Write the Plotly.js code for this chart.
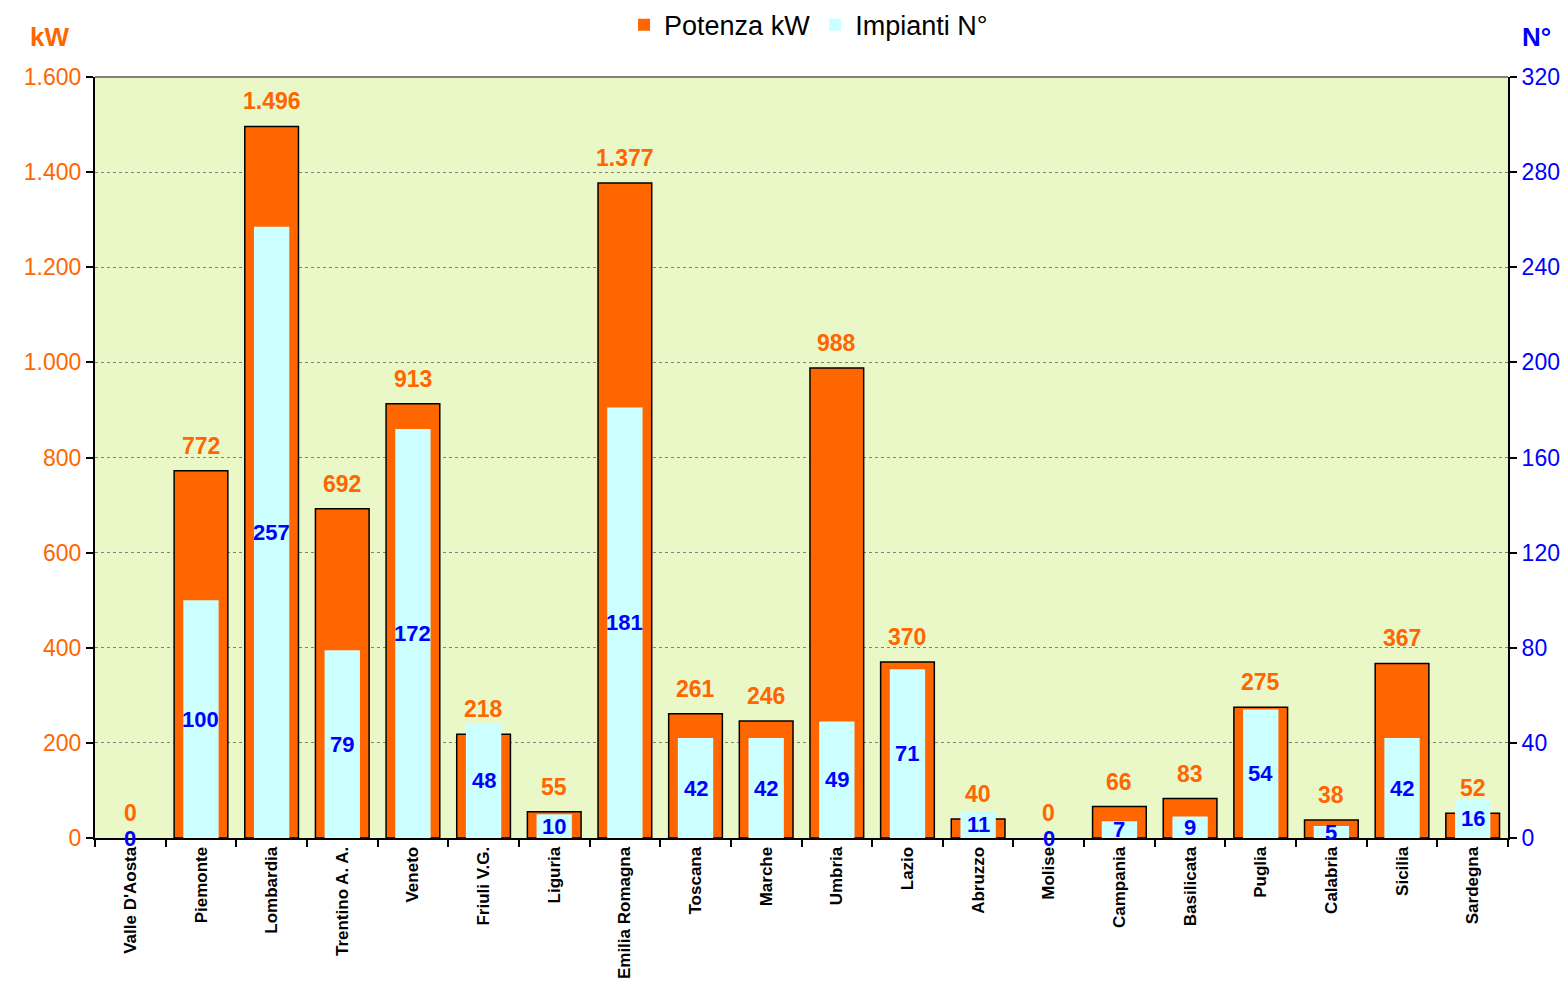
<!DOCTYPE html>
<html>
<head>
<meta charset="utf-8">
<script src="https://cdn.plot.ly/plotly-3.0.1.min.js"></script>
<style>html,body{margin:0;padding:0;background:#fff;}#chart{width:1567px;height:985px;}</style>
</head>
<body>
<div id="chart"></div>
<script>
const regions = ["Valle D'Aosta","Piemonte","Lombardia","Trentino A. A.","Veneto","Friuli V.G.","Liguria","Emilia Romagna","Toscana","Marche","Umbria","Lazio","Abruzzo","Molise","Campania","Basilicata","Puglia","Calabria","Sicilia","Sardegna"];
const potenzaKW = [0,772,1496,692,913,218,55,1377,261,246,988,370,40,0,66,83,275,38,367,52];
const impiantiN = [0,100,257,79,172,48,10,181,42,42,49,71,11,0,7,9,54,5,42,16];

const ORANGE = '#FF6600';
const BLUE = '#0000FF';
const FONT = 'Arial, "Liberation Sans", sans-serif';

function fmtIt(v){
  return String(v).replace(/\B(?=(\d{3})+(?!\d))/g, '.');
}

const traces = [
  {
    type:'bar', name:'Potenza kW', x:regions, y:potenzaKW, yaxis:'y',
    width:0.76,
    marker:{color:ORANGE, line:{color:'#000', width:potenzaKW.map(v => v > 0 ? 1.5 : 0)}},
    hoverinfo:'skip'
  },
  {
    type:'bar', name:'Impianti N°', x:regions, y:impiantiN, yaxis:'y2',
    width:0.5,
    marker:{color:'#CCFFFF', line:{width:0}},
    hoverinfo:'skip'
  }
];

const annotations = [];
regions.forEach((r,i)=>{
  annotations.push({
    x:r, y:potenzaKW[i], xref:'x', yref:'y', text:fmtIt(potenzaKW[i]),
    showarrow:false, yanchor:'middle', yshift:25,
    font:{family:FONT, size:23, color:ORANGE, weight:'bold'}
  });
  annotations.push({
    x:r, y:impiantiN[i]/2, xref:'x', yref:'y2', text:fmtIt(impiantiN[i]),
    showarrow:false, yanchor:'middle',
    font:{family:FONT, size:22, color:BLUE, weight:'bold'}
  });
});
annotations.push({
  x:-0.032, y:1.0526, xref:'paper', yref:'paper', text:'kW', showarrow:false,
  xanchor:'center', yanchor:'middle', font:{family:FONT, size:26, color:ORANGE, weight:'bold'}
});
annotations.push({
  x:1.0205, y:1.0526, xref:'paper', yref:'paper', text:'N°', showarrow:false,
  xanchor:'center', yanchor:'middle', font:{family:FONT, size:26, color:BLUE, weight:'bold'}
});

const layout = {
  width:1567, height:985,
  margin:{l:95, r:59, t:77, b:147, pad:0, autoexpand:false},
  paper_bgcolor:'#FFFFFF',
  plot_bgcolor:'#EAF8C8',
  separators:',.',
  barmode:'overlay',
  font:{family:FONT, color:'#000'},
  showlegend:true,
  legend:{orientation:'h', x:0.505, xanchor:'center', y:1.068, yanchor:'middle',
    font:{family:FONT, size:27, color:'#000'}, bgcolor:'rgba(0,0,0,0)', itemwidth:30, traceorder:'normal'},
  xaxis:{
    type:'category', tickangle:-90, tickson:'boundaries',
    ticks:'outside', ticklen:7, tickwidth:2, tickcolor:'#000',
    showline:true, linecolor:'#000', linewidth:2,
    showgrid:false, zeroline:false,
    tickfont:{family:FONT, size:17, color:'#000', weight:'bold'},
    fixedrange:true
  },
  yaxis:{
    range:[0,1600], dtick:200, tickformat:',d',
    ticks:'outside', ticklen:7, tickwidth:2, tickcolor:'#000',
    showline:true, linecolor:'#000', linewidth:2,
    showgrid:true, gridcolor:'#808080', gridwidth:1, griddash:'dot',
    zeroline:false,
    tickfont:{family:FONT, size:23, color:ORANGE}
  },
  yaxis2:{
    range:[0,320], dtick:40, overlaying:'y', side:'right',
    ticks:'outside', ticklen:7, tickwidth:2, tickcolor:'#000',
    showline:true, linecolor:'#000', linewidth:2,
    showgrid:false, zeroline:false,
    tickfont:{family:FONT, size:23, color:BLUE}
  },
  shapes:[{type:'line', xref:'paper', yref:'paper', x0:0, x1:1, y0:1, y1:1,
    line:{color:'#808080', width:2}}],
  annotations:annotations
};

Plotly.newPlot('chart', traces, layout, {displayModeBar:false, staticPlot:true});
</script>
</body>
</html>
